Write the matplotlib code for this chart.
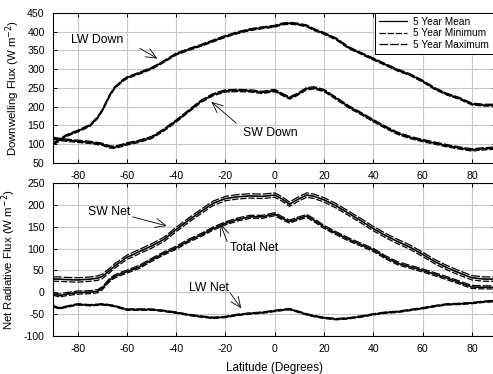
import numpy as np
import matplotlib
matplotlib.use('Agg')
import matplotlib.pyplot as plt

plt.rcParams['font.family'] = ['Liberation Sans', 'DejaVu Sans']
plt.rcParams['font.size'] = 7.3
plt.rcParams['axes.unicode_minus'] = False

# latitude grid (degrees)
lat = [-90, -87.5, -85, -80, -75, -72, -70, -67, -65, -62, -60, -55, -50, -45, -40,
       -35, -30, -25, -20, -15, -10, -5, 0, 3, 6, 9, 13, 16, 20, 25, 30, 35, 40,
       45, 50, 55, 60, 65, 70, 75, 80, 85, 90]

# downwelling fluxes, 5 year mean (W m-2)
lw_down = [101, 110, 122, 135, 150, 170, 190, 230, 250, 268, 277, 289, 302, 320, 340,
           352, 363, 375, 387, 397, 405, 410, 414, 420, 422, 420, 415, 405, 395, 380,
           357, 342, 327, 312, 297, 285, 268, 248, 233, 222, 207, 204, 204]
sw_down = [116, 113, 111, 108, 105, 102, 100, 93, 92, 97, 101, 108, 118, 138, 162,
           188, 214, 232, 242, 243, 242, 238, 243, 233, 223, 232, 248, 250, 243, 222,
           200, 182, 163, 145, 129, 118, 110, 103, 96, 90, 85, 88, 90]

# net fluxes, 5 year mean (W m-2)
sw_net = [30, 30, 29, 28, 30, 32, 36, 50, 60, 72, 80, 93, 106, 121, 144,
          165, 185, 204, 215, 219, 221, 220, 223, 214, 202, 212, 223, 220, 212, 198,
          181, 164, 146, 130, 116, 103, 87, 70, 56, 44, 33, 30, 30]
total_net = [-3, -8, -5, -1, 0, 2, 9, 28, 36, 43, 47, 58, 74, 89, 102,
             118, 131, 146, 158, 167, 173, 173, 179, 170, 162, 168, 175, 165, 150, 135,
             121, 109, 97, 80, 66, 58, 50, 41, 32, 22, 12, 11, 11]
lw_net = [-32, -37, -34, -28, -30, -29, -28, -30, -32, -37, -40, -40, -40, -43, -47,
          -52, -56, -59, -57, -52, -49, -47, -43, -41, -39, -44, -51, -55, -59, -62,
          -60, -56, -51, -47, -45, -41, -37, -32, -28, -27, -25, -22, -20]

# half width between 5 year min and max (W m-2)
spread = {'lw_down': 2.5, 'sw_down': 3.0, 'sw_net': 5.0, 'total_net': 3.5, 'lw_net': 1.5}

xticks = [-80, -60, -40, -20, 0, 20, 40, 60, 80]

# labels: (text, label position, arrow tail, arrow tip) in data units
top_labels = [('LW Down', (-72, 378), (-54.7, 355), (-47.6, 328)),
              ('SW Down', (-1.9, 129), (-15.6, 156), (-25.7, 213))]
bottom_labels = [('SW Net', (-67.4, 185), (-57.7, 173), (-43.8, 152)),
                 ('Total Net', (-8.5, 102), (-19.3, 116), (-22, 156)),
                 ('LW Net', (-26.7, 9), (-18.2, -1), (-13.6, -37))]

fig = plt.figure(figsize=(4.93, 3.74), dpi=100)
ax1 = fig.add_axes([0.1075, 0.564, 0.8995, 0.402])
ax2 = fig.add_axes([0.1075, 0.1024, 0.8995, 0.4075])


def draw(ax, y, s):
    y = np.array(y, dtype=float)
    ax.plot(lat, y - s, color='black', lw=0.9, ls=(0, (5, 1.5)))
    ax.plot(lat, y + s, color='black', lw=0.9, ls=(0, (7, 1.5)))
    ax.plot(lat, y, color='black', lw=1.2)


def label(ax, items):
    for txt, pos, tail, tip in items:
        ax.text(pos[0], pos[1], txt, ha='center', va='center', fontsize=8.8)
        ax.annotate('', xy=tip, xytext=tail,
                    arrowprops=dict(arrowstyle='->,head_length=0.5,head_width=0.22',
                                    color='black', lw=0.6,
                                    mutation_scale=15, shrinkA=0, shrinkB=0))


draw(ax1, lw_down, spread['lw_down'])
draw(ax1, sw_down, spread['sw_down'])
draw(ax2, sw_net, spread['sw_net'])
draw(ax2, total_net, spread['total_net'])
draw(ax2, lw_net, spread['lw_net'])
label(ax1, top_labels)
label(ax2, bottom_labels)

for ax in (ax1, ax2):
    ax.set_xlim(-90, 90)
    ax.set_xticks(xticks)
    ax.grid(True, color='#c8c8c8', lw=0.8)
    ax.set_axisbelow(True)
    ax.tick_params(direction='in', top=True, right=True, length=3, width=0.7, pad=6,
                   labelsize=7.6)
    for sp in ax.spines.values():
        sp.set_linewidth(0.8)

ax1.set_ylim(50, 450)
ax1.set_yticks(np.arange(50, 451, 50))
ax1.set_ylabel('Downwelling Flux (W m$^{-2}$)', fontsize=8.2)
ax2.set_ylim(-100, 250)
ax2.set_yticks(np.arange(-100, 251, 50))
ax2.set_ylabel('Net Radiative Flux (W m$^{-2}$)', fontsize=8.2)
ax2.set_xlabel('Latitude (Degrees)', labelpad=6, fontsize=8.4)

handles = [plt.Line2D([], [], color='black', lw=0.9),
           plt.Line2D([], [], color='black', lw=0.9, ls=(0, (5, 1.5))),
           plt.Line2D([], [], color='black', lw=0.9, ls=(0, (7, 1.5)))]
leg = ax1.legend(handles, ['5 Year Mean', '5 Year Minimum', '5 Year Maximum'],
                 loc='upper right', bbox_to_anchor=(0.993, 1.0), fancybox=False,
                 framealpha=1, edgecolor='black', borderpad=0.4, labelspacing=0.15,
                 handlelength=2.8, handletextpad=0.6, borderaxespad=0)
leg.get_frame().set_linewidth(0.7)

fig.savefig('out.png', dpi=100)
